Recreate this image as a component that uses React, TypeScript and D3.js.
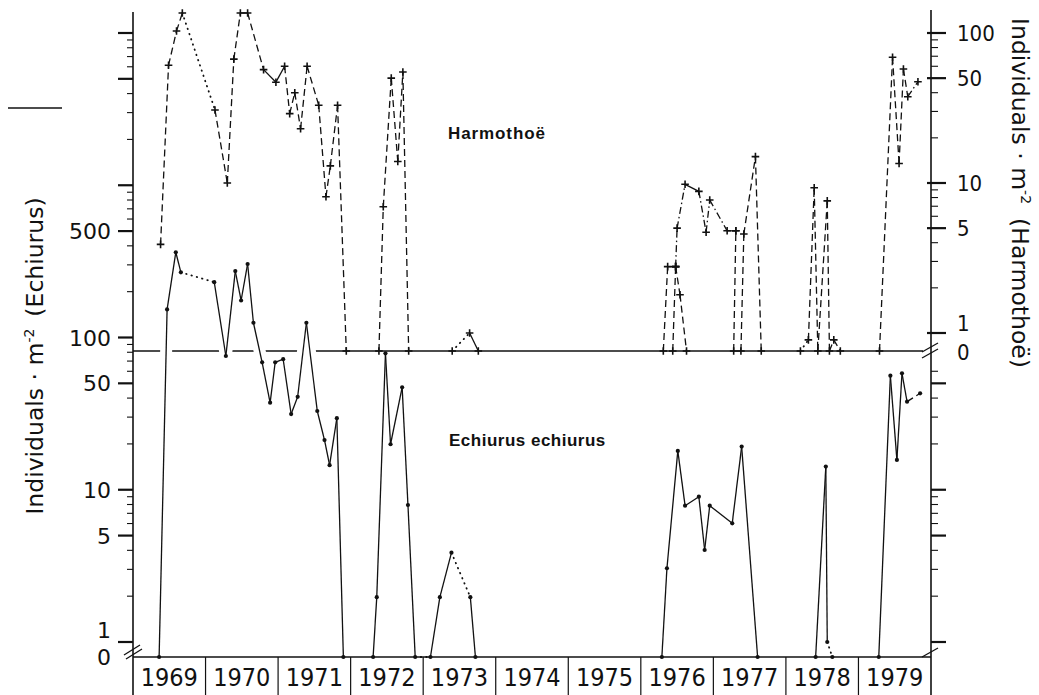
import React from "react";
import * as d3 from "d3";

type Pt = [number, number];

// ---------- categories / tick labels ----------
const yearLabels = ["1969", "1970", "1971", "1972", "1973", "1974", "1975", "1976", "1977", "1978", "1979"];
const yearBounds = [1969, 1970, 1971, 1972, 1973, 1974, 1975, 1976, 1977, 1978, 1979, 1980];
const echiurusLabels = [500, 100, 50, 10, 5, 1];
const harmothoeLabels = [100, 50, 10, 5, 1];

// ---------- Harmothoë (individuals per m², right axis) ----------
// [decimal year, value]; links: d = dashed, . = dotted, s = solid, x = dash-dot
const harm1969: Pt[] = [
  [1969.38, 3.9], [1969.49, 61], [1969.6, 103], [1969.68, 136], [1970.13, 30.7], [1970.3, 10],
  [1970.39, 67], [1970.48, 136], [1970.58, 136], [1970.8, 57], [1970.97, 47], [1971.09, 60],
  [1971.16, 29], [1971.23, 40], [1971.31, 23], [1971.4, 60], [1971.56, 33], [1971.66, 8.1],
  [1971.72, 13], [1971.82, 33], [1971.94, 0],
];
const harm1969Links = "ddd.dddsdssddddddddd";
const harm1972: Pt[] = [[1972.39, 0], [1972.45, 6.95], [1972.56, 50], [1972.65, 13.9], [1972.72, 55], [1972.8, 0]];
const harm1972Links = "ddddd";
const harm1973: Pt[] = [[1973.4, 0], [1973.64, 1], [1973.76, 0]];
const harm1973Links = ".s";
const harm1976a: Pt[] = [[1976.31, 0], [1976.37, 2.77], [1976.48, 2.77], [1976.54, 1.8], [1976.63, 0]];
const harm1976aLinks = "dsdd";
const harm1976b: Pt[] = [[1976.44, 0], [1976.48, 2.77]];
const harm1976bLinks = "d";
const harm1976c: Pt[] = [
  [1976.48, 2.77], [1976.5, 5], [1976.61, 9.8], [1976.8, 8.8], [1976.9, 4.7], [1976.95, 7.7],
  [1977.19, 4.8], [1977.31, 4.8],
];
const harm1976cLinks = "xxsxxxs";
const harm1977a: Pt[] = [[1977.28, 0], [1977.31, 4.8]];
const harm1977aLinks = "d";
const harm1977b: Pt[] = [[1977.38, 0], [1977.42, 4.57], [1977.58, 15], [1977.66, 0]];
const harm1977bLinks = "ddd";
const harm1978: Pt[] = [
  [1978.2, 0], [1978.31, 0.9], [1978.39, 9.3], [1978.44, 0], [1978.57, 7.6], [1978.6, 0],
  [1978.66, 0.9], [1978.75, 0],
];
const harm1978Links = ".dddddd";
const harm1979: Pt[] = [[1979.29, 0], [1979.47, 68.9], [1979.56, 13.5], [1979.62, 57.5], [1979.68, 37.6], [1979.82, 47.3]];
const harm1979Links = "ddddx";

// ---------- Echiurus echiurus (individuals per m², left axis) ----------
const ech1969: Pt[] = [
  [1969.36, 0], [1969.47, 153], [1969.59, 363], [1969.66, 268], [1970.12, 231], [1970.28, 75.6],
  [1970.41, 273], [1970.49, 175], [1970.58, 304], [1970.66, 125], [1970.78, 68.7], [1970.89, 37.3],
  [1970.96, 68.7], [1971.07, 72], [1971.18, 31.4], [1971.27, 40.8], [1971.39, 125], [1971.54, 32.9],
  [1971.64, 21.2], [1971.71, 14.5], [1971.81, 29.5], [1971.9, 0],
];
const ech1969Links = "sss.sssssssssssssssss";
const ech1972: Pt[] = [
  [1972.31, 0], [1972.36, 1.97], [1972.48, 78.7], [1972.55, 19.9], [1972.71, 47.1], [1972.79, 7.94],
  [1972.89, 0], [1973.1, 0], [1973.23, 1.97], [1973.39, 3.86], [1973.65, 1.97], [1973.72, 0],
];
const ech1972Links = "ssssss.ss.s";
const ech1976: Pt[] = [
  [1976.29, 0], [1976.36, 3.05], [1976.51, 18], [1976.61, 7.86], [1976.8, 9], [1976.88, 4.02],
  [1976.95, 7.86], [1977.26, 6.02], [1977.39, 19.2], [1977.61, 0],
];
const ech1976Links = "sssssssss";
const ech1978: Pt[] = [[1978.41, 0], [1978.55, 14.2], [1978.57, 1], [1978.64, 0]];
const ech1978Links = "ss.";
const ech1979: Pt[] = [[1979.28, 0], [1979.44, 56.1], [1979.53, 15.7], [1979.6, 58.2], [1979.67, 37.9], [1979.85, 43]];
const ech1979Links = "ssssd";

const harmRuns = [
  { pts: harm1969, links: harm1969Links },
  { pts: harm1972, links: harm1972Links },
  { pts: harm1973, links: harm1973Links },
  { pts: harm1976a, links: harm1976aLinks },
  { pts: harm1976b, links: harm1976bLinks },
  { pts: harm1976c, links: harm1976cLinks },
  { pts: harm1977a, links: harm1977aLinks },
  { pts: harm1977b, links: harm1977bLinks },
  { pts: harm1978, links: harm1978Links },
  { pts: harm1979, links: harm1979Links },
];
const echRuns = [
  { pts: ech1969, links: ech1969Links, halo: true },
  { pts: ech1972, links: ech1972Links, halo: false },
  { pts: ech1976, links: ech1976Links, halo: false },
  { pts: ech1978, links: ech1978Links, halo: false },
  { pts: ech1979, links: ech1979Links, halo: false },
];

// ---------- layout ----------
const W = 1039;
const H = 695;
const INK = "#111";
const AXIS_FONT = "'DejaVu Sans', 'Liberation Sans', sans-serif";
const COND_FONT = "'DejaVu Sans Condensed', 'DejaVu Sans', sans-serif";
const BOLD_FONT = "'Liberation Sans', Arial, sans-serif";

const x = d3.scaleLinear().domain([1969, 1980]).range([133, 931]);
const yE = d3.scaleLog().domain([1, 10000]).range([642, 33]);
const yEZero = 657;
const yH = d3.scaleLog().domain([1, 100]).range([333, 33]);
const yHZero = 351;

const yEch = (v: number) => (v <= 0 ? yEZero : yE(v));
const yHarm = (v: number) => (v <= 0 ? yHZero : yH(v));

const dashFor: Record<string, string | undefined> = {
  d: "7 4",
  ".": "0.5 5",
  s: undefined,
  x: "7 3 1.5 3",
};

const line = d3.line<[number, number]>().x((d) => d[0]).y((d) => d[1]);

function logTicks(maxV: number): { v: number; major: boolean }[] {
  const out: { v: number; major: boolean }[] = [];
  for (let dec = 1; dec <= maxV; dec *= 10) {
    for (let m = 1; m <= 9; m++) {
      const v = m * dec;
      if (v > maxV) break;
      out.push({ v, major: m === 1 || m === 5 });
    }
  }
  return out;
}

function Segments({ pts, links, yf, halo }: { pts: Pt[]; links: string; yf: (v: number) => number; halo?: boolean }) {
  const segs = [];
  for (let i = 0; i < pts.length - 1; i++) {
    const a: [number, number] = [x(pts[i][0]), yf(pts[i][1])];
    const b: [number, number] = [x(pts[i + 1][0]), yf(pts[i + 1][1])];
    const k = links[i] || "s";
    const dash = dashFor[k];
    segs.push(
      <path
        key={i}
        d={line([a, b]) || ""}
        fill="none"
        stroke={halo ? "#fff" : INK}
        strokeWidth={halo ? 12 : k === "." ? 1.8 : 1.3}
        strokeLinecap={k === "." ? "round" : "butt"}
        strokeDasharray={halo ? undefined : dash}
      />
    );
  }
  return <g>{segs}</g>;
}

export default function App() {
  const echTicks = logTicks(10000);
  const harmTicks = logTicks(100);
  const echRightTicks = logTicks(100).filter((t) => yE(t.v) >= 362);
  const xL = x(1969);
  const xR = x(1980);

  return (
    <svg
      width={W}
      height={H}
      viewBox={`0 0 ${W} ${H}`}
      style={{ position: "absolute", left: 0, top: 0, background: "#fff", display: "block" }}
    >
      <rect x={0} y={0} width={W} height={H} fill="#fff" />

      {/* stray mark at top-left of the scanned figure */}
      <line x1={8} x2={62} y1={108} y2={108} stroke={INK} strokeWidth={1.3} />

      {/* Harmothoë zero baseline */}
      <line x1={xL} x2={xR - 8} y1={yHZero} y2={yHZero} stroke={INK} strokeWidth={1.4} />

      {/* Echiurus lines */}
      {echRuns.filter((r) => r.halo).map((r, i) => (
        <Segments key={"h" + i} pts={r.pts} links={r.links} yf={yEch} halo />
      ))}
      {echRuns.map((r, i) => (
        <Segments key={"e" + i} pts={r.pts} links={r.links} yf={yEch} />
      ))}

      {/* bottom axis line & year boxes */}
      <line x1={xL} x2={xR} y1={yEZero} y2={yEZero} stroke={INK} strokeWidth={1.6} />
      {yearBounds.slice(1, -1).map((yr) => (
        <line key={yr} x1={x(yr)} x2={x(yr)} y1={yEZero} y2={H} stroke={INK} strokeWidth={1.2} />
      ))}
      {yearLabels.map((lab, i) => (
        <text
          key={lab}
          x={(x(yearBounds[i]) + x(yearBounds[i + 1])) / 2}
          y={686}
          textAnchor="middle"
          fontFamily={COND_FONT}
          fontSize={25}
          fill={INK}
        >
          {lab}
        </text>
      ))}

      {/* Harmothoë lines */}
      {harmRuns.map((r, i) => (
        <Segments key={"r" + i} pts={r.pts} links={r.links} yf={yHarm} />
      ))}

      {/* markers */}
      {echRuns.flatMap((r, i) =>
        r.pts.map((p, j) => <circle key={`ed${i}-${j}`} cx={x(p[0])} cy={yEch(p[1])} r={2.1} fill={INK} />)
      )}
      {harmRuns.flatMap((r, i) =>
        r.pts.map((p, j) => {
          const cx = x(p[0]);
          const cy = yHarm(p[1]);
          return (
            <path
              key={`hp${i}-${j}`}
              d={`M${cx - 3.8},${cy}H${cx + 3.8}M${cx},${cy - 3.8}V${cy + 3.8}`}
              stroke={INK}
              strokeWidth={1.6}
            />
          );
        })
      )}

      {/* left axis (Echiurus) */}
      <line x1={xL} x2={xL} y1={12} y2={H} stroke={INK} strokeWidth={1.6} />
      {echTicks.map((t) => (
        <line
          key={"lt" + t.v}
          x1={xL - (t.major ? 15 : 6)}
          x2={xL}
          y1={yE(t.v)}
          y2={yE(t.v)}
          stroke={INK}
          strokeWidth={t.major ? 2.2 : 1.1}
        />
      ))}
      {echiurusLabels.map((v) => (
        <text
          key={"ll" + v}
          x={111}
          y={(v === 1 ? yE(v) - 12 : yE(v)) + 8}
          textAnchor="end"
          fontFamily={AXIS_FONT}
          fontSize={22}
          fill={INK}
        >
          {v}
        </text>
      ))}
      <text x={111} y={yEZero + 8} textAnchor="end" fontFamily={AXIS_FONT} fontSize={22} fill={INK}>
        0
      </text>
      {/* break mark bottom-left */}
      <line x1={xL - 9} x2={xL + 7} y1={yEZero - 2} y2={yEZero - 12} stroke={INK} strokeWidth={1.3} />
      <line x1={xL - 7} x2={xL + 9} y1={yEZero + 2} y2={yEZero - 8} stroke={INK} strokeWidth={1.3} />

      {/* right axis */}
      <line x1={xR} x2={xR} y1={10} y2={H} stroke={INK} strokeWidth={1.6} />
      {harmTicks.map((t) => (
        <line
          key={"rt" + t.v}
          x1={xR - (t.major ? 4 : 0)}
          x2={xR + (t.major ? 15 : 7)}
          y1={yH(t.v)}
          y2={yH(t.v)}
          stroke={INK}
          strokeWidth={t.major ? 2.2 : 1.1}
        />
      ))}
      {echRightTicks.map((t) => (
        <line
          key={"re" + t.v}
          x1={xR}
          x2={xR + (t.major ? 15 : 7)}
          y1={yE(t.v)}
          y2={yE(t.v)}
          stroke={INK}
          strokeWidth={t.major ? 2.2 : 1.1}
        />
      ))}
      {harmothoeLabels.map((v) => (
        <text
          key={"rl" + v}
          x={957}
          y={(v === 1 ? yH(v) - 10 : yH(v)) + 8}
          textAnchor="start"
          fontFamily={COND_FONT}
          fontSize={22}
          fill={INK}
        >
          {v}
        </text>
      ))}
      <text x={957} y={yHZero + 9} textAnchor="start" fontFamily={COND_FONT} fontSize={22} fill={INK}>
        0
      </text>
      {/* right axis breaks */}
      <line x1={xR - 9} x2={xR + 7} y1={yHZero + 1} y2={yHZero - 8} stroke={INK} strokeWidth={1.3} />
      <line x1={xR - 9} x2={xR + 7} y1={yHZero + 7} y2={yHZero - 2} stroke={INK} strokeWidth={1.3} />
      <line x1={xR - 9} x2={xR + 7} y1={yEZero} y2={yEZero - 9} stroke={INK} strokeWidth={1.3} />

      {/* axis titles */}
      <text
        transform={`translate(43, 356) rotate(-90)`}
        textAnchor="middle"
        fontFamily={AXIS_FONT}
        fontSize={23.5}
        fill={INK}
      >
        Individuals · m
        <tspan dy={-9} fontSize={14}>-2</tspan>
        <tspan dy={9} dx={12}>(Echiurus)</tspan>
      </text>
      <text
        transform={`translate(1012, 193) rotate(90)`}
        textAnchor="middle"
        fontFamily={AXIS_FONT}
        fontSize={23.5}
        fill={INK}
      >
        Individuals · m
        <tspan dy={-9} fontSize={14}>-2</tspan>
        <tspan dy={9} dx={14}>(Harmothoë)</tspan>
      </text>

      {/* series labels */}
      <text x={448} y={139} fontFamily={BOLD_FONT} fontWeight="bold" fontSize={17} letterSpacing={0.9} fill={INK}>
        Harmothoë
      </text>
      <text x={449} y={446} fontFamily={BOLD_FONT} fontWeight="bold" fontSize={17} letterSpacing={0.5} fill={INK}>
        Echiurus echiurus
      </text>
    </svg>
  );
}
